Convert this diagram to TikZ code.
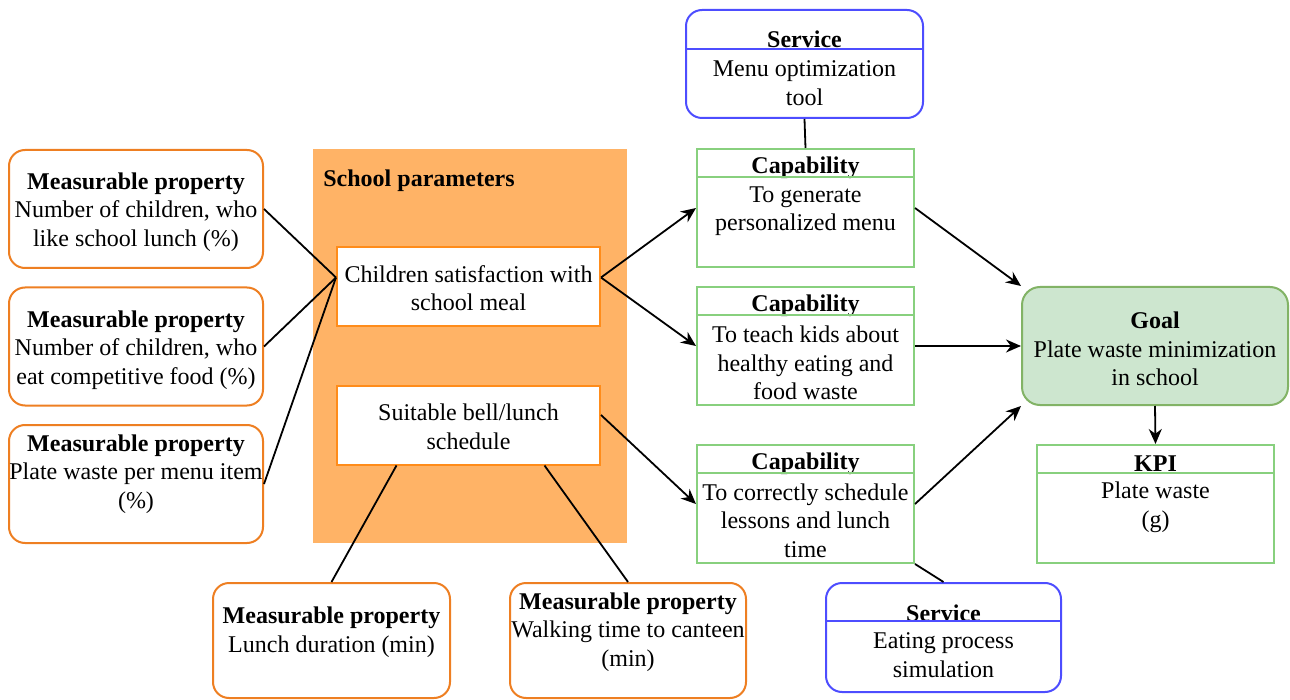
\documentclass[tikz,border=0pt]{standalone}
\usepackage{fontspec}
\setmainfont{Liberation Serif}
\usetikzlibrary{arrows.meta,calc}

\definecolor{mporange}{HTML}{EE7F22}
\definecolor{spfill}{HTML}{FFB366}
\definecolor{csorange}{HTML}{FF8C1A}
\definecolor{svblue}{HTML}{4D4DFF}
\definecolor{capgreen}{HTML}{88D07E}
\definecolor{goalfill}{HTML}{CDE6CF}
\definecolor{goalline}{HTML}{82B366}

\tikzset{
  mpbox/.style={draw=mporange, line width=1pt, rounded corners=8pt, fill=white, minimum width=127pt, minimum height=59pt},
  parbox/.style={draw=csorange, line width=1pt, fill=white, minimum width=131.5pt, minimum height=39.5pt},
  svbox/.style={draw=svblue, line width=1pt, rounded corners=8pt, minimum width=118.5pt, minimum height=54pt},
  capbox/.style={draw=capgreen, line width=1pt, minimum width=108.5pt, minimum height=59pt},
  txt/.style={align=center, inner sep=0pt},
  ttl/.style={inner sep=0pt, font=\fontsize{12}{14.3}\selectfont\bfseries},
  link/.style={line width=0.9pt},
  arr/.style={line width=0.9pt, -{Stealth[length=7.5pt,width=6.5pt]}}
}

\begin{document}
\begin{tikzpicture}[x=0.5pt, y=-0.5pt, font=\fontsize{12}{14.3}\selectfont]
\useasboundingbox (0,0) rectangle (1290,700);

% school parameters
\node[fill=spfill, minimum width=157pt, minimum height=197pt, inner sep=0pt] (sp) at (470,346) {};
\node[ttl, anchor=west] (spt) at (323,181) {School parameters};
\node[parbox] (cs) at (468.5,286.5) {};
\node[txt] (cst) at (468.5,288) {Children satisfaction with\\school meal};
\node[parbox] (sb) at (468.5,425) {};
\node[txt] (sbt) at (468.5,427) {Suitable bell/lunch\\schedule};

% measurable properties
\node[mpbox] (mp1) at (136,209) {};
\node[txt] (mp1t) at (136,212) {\textbf{Measurable property}\\Number of children, who\\like school lunch (\%)};
\node[mpbox] (mp2) at (136,346.5) {};
\node[txt] (mp2t) at (136,350) {\textbf{Measurable property}\\Number of children, who\\eat competitive food (\%)};
\node[mpbox] (mp3) at (136,484) {};
\node[txt] (mp3t) at (136,474) {\textbf{Measurable property}\\Plate waste per menu item\\(\%)};
\node[mpbox, minimum width=118.5pt, minimum height=57.5pt] (mp4) at (331.5,640.5) {};
\node[txt] (mp4t) at (331.5,632) {\textbf{Measurable property}\\Lunch duration (min)};
\node[mpbox, minimum width=118pt, minimum height=57.5pt] (mp5) at (628,640.5) {};
\node[txt] (mp5t) at (628,632) {\textbf{Measurable property}\\Walking time to canteen\\(min)};

% services
\node[svbox] (sv1) at (804.5,64) {};
\node[ttl] (sv1h) at (804.5,39) {Service};
\draw[svblue, line width=1pt] ([yshift=-20pt]sv1.north west) -- ([yshift=-20pt]sv1.north east);
\node[txt] (sv1t) at (804.5,83) {Menu optimization\\tool};
\node[svbox, minimum width=117.5pt, minimum height=54.5pt] (sv2) at (943.5,637.5) {};
\node[ttl] (sv2h) at (943.5,613) {Service};
\draw[svblue, line width=1pt] ([yshift=-19.5pt]sv2.north west) -- ([yshift=-19.5pt]sv2.north east);
\node[txt] (sv2t) at (943.5,655) {Eating process\\simulation};

% capabilities
\foreach \n/\y in {cap1/208, cap2/346, cap3/504}{
  \node[capbox] (\n) at (805.5,\y) {};
  \node[ttl] (\n h) at (805.5,\y-40) {Capability};
  \draw[capgreen, line width=1pt] ([yshift=-14.5pt]\n.north west) -- ([yshift=-14.5pt]\n.north east);
}
\node[txt] (cap1t) at (805.5,211) {To generate\\personalized menu};
\node[txt] (cap2t) at (805.5,363) {To teach kids about\\healthy eating and\\food waste};
\node[txt] (cap3t) at (805.5,520.5) {To correctly schedule\\lessons and lunch\\time};

% goal and kpi
\node[draw=goalline, fill=goalfill, line width=1pt, rounded corners=9pt, minimum width=133pt, minimum height=59pt] (goal) at (1155,346) {};
\node[txt] (goalt) at (1155,349) {\textbf{Goal}\\Plate waste minimization\\in school};
\node[capbox, minimum width=118.5pt] (kpi) at (1155.5,504) {};
\node[ttl] (kpih) at (1155.5,464) {KPI};
\draw[capgreen, line width=1pt] ([yshift=-14.5pt]kpi.north west) -- ([yshift=-14.5pt]kpi.north east);
\node[txt] (kpit) at (1155.5,507) {Plate waste\\(g)};

% connectors
\coordinate (csL) at ([yshift=4.5pt]cs.west);
\coordinate (csR) at ([yshift=4.5pt]cs.east);
\coordinate (sbR) at ([yshift=5pt]sb.east);
\coordinate (sbA) at ([xshift=-36pt]sb.south);
\coordinate (sbB) at ([xshift=38pt]sb.south);
\draw[link] (mp1.east) -- (csL);
\draw[link] (mp2.east) -- (csL);
\draw[link] (mp3.east) -- (csL);
\draw[link] (sbA) -- (mp4.north);
\draw[link] (sbB) -- (mp5.north);
\draw[arr] (csR) -- (cap1.west);
\draw[arr] (csR) -- (cap2.west);
\draw[arr] (sbR) -- (cap3.west);
\draw[link] (sv1.south) -- (cap1.north);
\draw[link] (cap3.south east) -- (sv2.north);
\draw[arr] (cap1.east) -- (goal.north west);
\draw[arr] (cap2.east) -- (goal.west);
\draw[arr] (cap3.east) -- (goal.south west);
\draw[arr] (goal.south) -- (kpi.north);

\end{tikzpicture}
\end{document}
